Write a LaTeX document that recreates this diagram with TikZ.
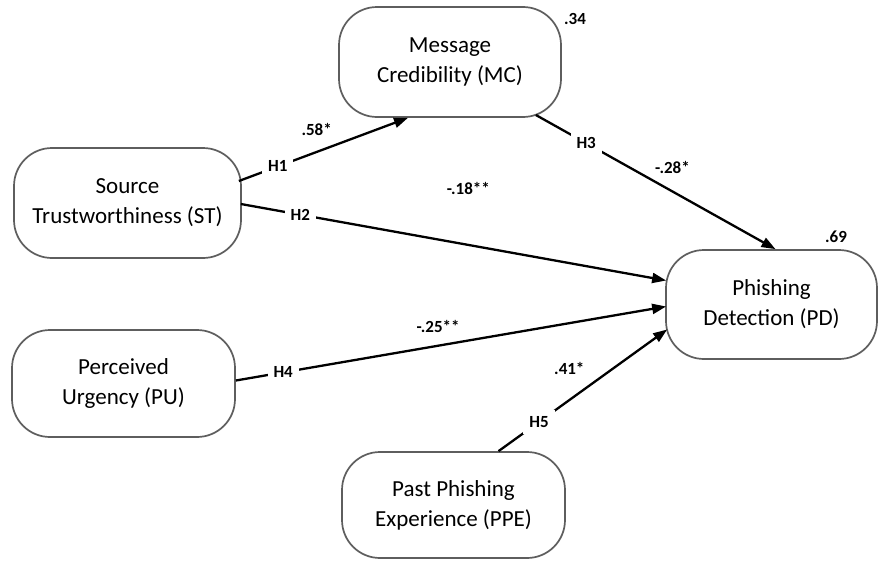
\documentclass[tikz,border=0pt]{standalone}
\usepackage{fontspec}
\setmainfont{Carlito}
\usetikzlibrary{arrows.meta}
\definecolor{boxline}{HTML}{5E5E5E}
\begin{document}
\begin{tikzpicture}[x=1pt,y=-1pt,
  construct/.style={draw=boxline, line width=1.7pt, rounded corners=38pt,
    fill=white, align=center, font=\fontsize{23}{30}\selectfont,
    inner sep=0pt},
  path/.style={line width=2.3pt, -{Triangle[length=14pt,width=10pt]}},
  hyp/.style={fill=white, inner sep=6pt, font=\bfseries\fontsize{17}{19}\selectfont},
  coef/.style={font=\bfseries\fontsize{17}{19}\selectfont, inner sep=0pt},
  rsq/.style={font=\bfseries\fontsize{17}{19}\selectfont, inner sep=0pt}]
\useasboundingbox[fill=white] (0,0) rectangle (878,562);

% constructs
\node[construct, minimum width=227pt, minimum height=110pt] (st) at (127.5,203) {Source\\Trustworthiness (ST)};
\node[construct, minimum width=223pt, minimum height=107pt] (pu) at (123.5,383.5) {Perceived\\Urgency (PU)};
\node[construct, minimum width=222pt, minimum height=110pt] (mc) at (450,62) {Message\\Credibility (MC)};
\node[construct, minimum width=211pt, minimum height=109pt] (pd) at (771.5,304.5) {Phishing\\Detection (PD)};
\node[construct, minimum width=223pt, minimum height=106pt] (ppe) at (453.5,505) {Past Phishing\\Experience (PPE)};

% explained variance
\node[rsq] (r2mc) at (575,19) {.34};
\node[rsq] (r2pd) at (836,237) {.69};

% structural paths
\draw[path] ([shift={(-3pt,22pt)}]st.east) -- ([xshift=-42pt]mc.south)
  node[hyp, pos=0.23] (h1) {H1}
  node[coef, pos=0.46, yshift=22pt] (c1) {.58*};
\draw[path] ([shift={(-1pt,-1pt)}]st.east) -- ([shift={(1pt,24pt)}]pd.west)
  node[hyp, pos=0.14] (h2) {H2}
  node[coef, pos=0.535, yshift=56pt] (c2) {-.18**};
\draw[path] ([shift={(-26pt,-53pt)}]mc.east) -- ([xshift=4pt]pd.north)
  node[hyp, pos=0.21] (h3) {H3}
  node[coef, pos=0.57, yshift=24pt] (c3) {-.28*};
\draw[path] ([yshift=3pt]pu.east) -- ([shift={(1pt,-2pt)}]pd.west)
  node[hyp, pos=0.11] (h4) {H4}
  node[coef, pos=0.47, yshift=19pt] (c4) {-.25**};
\draw[path] ([xshift=45pt]ppe.north) -- ([shift={(2pt,-25pt)}]pd.west)
  node[hyp, pos=0.24] (h5) {H5}
  node[coef, pos=0.42, yshift=32pt] (c5) {.41*};
\end{tikzpicture}
\end{document}
